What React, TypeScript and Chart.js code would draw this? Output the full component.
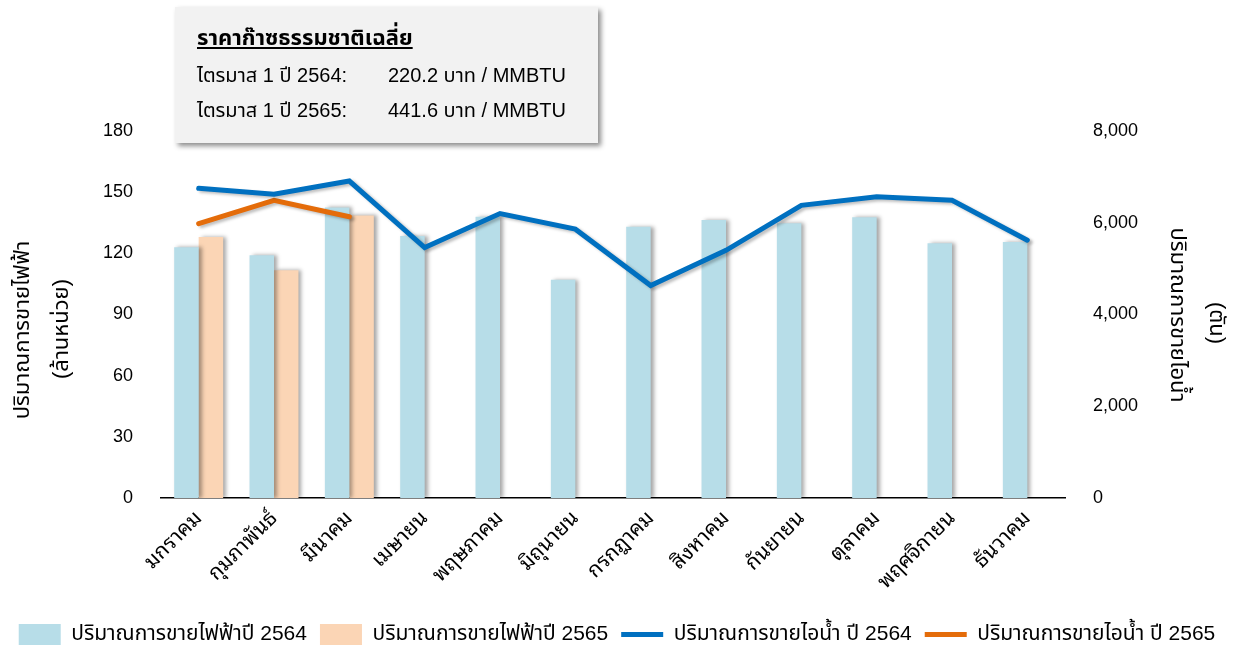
import React, { useEffect, useRef } from 'react';
import { Chart, registerables } from 'chart.js';

Chart.register(...registerables);

// ---------- data ----------
const months = ['มกราคม', 'กุมภาพันธ์', 'มีนาคม', 'เมษายน', 'พฤษภาคม', 'มิถุนายน', 'กรกฎาคม', 'สิงหาคม', 'กันยายน', 'ตุลาคม', 'พฤศจิกายน', 'ธันวาคม'];
const elec2564 = [123, 119, 142.5, 128.5, 138, 107, 133, 136.3, 134.8, 137.7, 125, 125.6];
const elec2565 = [128, 111.7, 138.6, null, null, null, null, null, null, null, null, null];
const steam2564 = [6750, 6620, 6910, 5460, 6200, 5860, 4630, 5400, 6380, 6565, 6490, 5620];
const steam2565 = [5980, 6490, 6130, null, null, null, null, null, null, null, null, null];

const seriesLabels = ['ปริมาณการขายไฟฟ้าปี 2564', 'ปริมาณการขายไฟฟ้าปี 2565', 'ปริมาณการขายไอน้ำ ปี 2564', 'ปริมาณการขายไอน้ำ ปี 2565'];
const leftAxisTitle = ['ปริมาณการขายไฟฟ้า', '(ล้านหน่วย)'];
const rightAxisTitle = ['ปริมาณการขายไอน้ำ', '(ตัน)'];
const leftMax = 180;
const leftStep = 30;
const rightMax = 8000;
const rightStep = 2000;

const gasTitle = 'ราคาก๊าซธรรมชาติเฉลี่ย';
const gasLabels = ['ไตรมาส 1 ปี 2564:', 'ไตรมาส 1 ปี 2565:'];
const gasValues = ['220.2 บาท / MMBTU', '441.6 บาท / MMBTU'];

const FONT = "'Liberation Sans', Arial, Tahoma, 'Noto Sans Thai', 'Leelawadee UI', sans-serif";
const LOOPED = "'Noto Sans Thai Looped', Tahoma, 'Liberation Sans', Arial, 'Noto Sans Thai', sans-serif";

const shadowPlugin = {
  id: 'shadowPlugin',
  beforeDatasetDraw(chart: any, args: any) {
    const ctx = chart.ctx;
    ctx.save();
    const isBar = args.meta.type === 'bar';
    ctx.shadowColor = isBar ? 'rgba(0,0,0,0.35)' : 'rgba(0,0,0,0.25)';
    ctx.shadowBlur = isBar ? 4 : 3;
    ctx.shadowOffsetX = 3;
    ctx.shadowOffsetY = isBar ? 0 : 2;
  },
  afterDatasetDraw(chart: any) {
    chart.ctx.restore();
  },
};

const axisTitlePlugin = {
  id: 'axisTitlePlugin',
  afterDraw(chart: any) {
    const ctx = chart.ctx;
    ctx.save();
    ctx.fillStyle = '#000';
    ctx.font = `22px ${FONT}`;
    ctx.textAlign = 'center';
    ctx.textBaseline = 'middle';
    const drawRot = (text: string, x: number, y: number, rot: number) => {
      ctx.save();
      ctx.translate(x, y);
      ctx.rotate(rot);
      ctx.fillText(text, 0, 0);
      ctx.restore();
    };
    drawRot(leftAxisTitle[0], 23, 330, -Math.PI / 2);
    drawRot(leftAxisTitle[1], 62, 329, -Math.PI / 2);
    drawRot(rightAxisTitle[0], 1177, 315, Math.PI / 2);
    drawRot(rightAxisTitle[1], 1216, 323, Math.PI / 2);
    ctx.restore();
  },
};

export default function App() {
  const canvasRef = useRef<HTMLCanvasElement | null>(null);

  useEffect(() => {
    if (!canvasRef.current) return;
    const chart = new Chart(canvasRef.current, {
      type: 'bar',
      data: {
        labels: months,
        datasets: [
          {
            type: 'bar',
            label: seriesLabels[0],
            data: elec2564,
            backgroundColor: '#B7DDE8',
            borderWidth: 0,
            yAxisID: 'y',
            order: 1,
            categoryPercentage: 0.65,
            barPercentage: 1.0,
            pointStyle: 'rect',
          } as any,
          {
            type: 'bar',
            label: seriesLabels[1],
            data: elec2565,
            backgroundColor: '#FBD5B5',
            borderWidth: 0,
            yAxisID: 'y',
            order: 1,
            categoryPercentage: 0.65,
            barPercentage: 1.0,
            pointStyle: 'rect',
          } as any,
          {
            type: 'line',
            label: seriesLabels[2],
            data: steam2564,
            borderColor: '#0070C0',
            backgroundColor: '#0070C0',
            borderWidth: 5,
            pointRadius: 0,
            borderCapStyle: 'round',
            tension: 0,
            yAxisID: 'y1',
            order: 0,
            pointStyle: 'line',
          } as any,
          {
            type: 'line',
            label: seriesLabels[3],
            data: steam2565,
            borderColor: '#E46C0A',
            backgroundColor: '#E46C0A',
            borderWidth: 5,
            pointRadius: 0,
            borderCapStyle: 'round',
            tension: 0,
            yAxisID: 'y1',
            order: 0,
            spanGaps: false,
            pointStyle: 'line',
          } as any,
        ],
      },
      options: {
        responsive: false,
        animation: false,
        devicePixelRatio: 1,
        layout: { padding: { top: 131, bottom: -6, left: 0, right: 0 } },
        plugins: {
          legend: {
            position: 'bottom',
            labels: {
              usePointStyle: true,
              pointStyleWidth: 42,
              color: '#000',
              font: { family: FONT, size: 21 },
              padding: 13,
              sort: (a: any, b: any) => a.datasetIndex - b.datasetIndex,
            },
          },
          tooltip: { enabled: false },
        },
        scales: {
          x: {
            grid: { display: false, drawTicks: false },
            border: { display: true, color: '#000', width: 1.5 },
            ticks: {
              color: '#000',
              font: { family: LOOPED, size: 21 },
              maxRotation: 45,
              minRotation: 45,
              padding: 8,
              autoSkip: false,
            },
            afterFit: (scale: any) => {
              scale.height = 113;
            },
          },
          y: {
            position: 'left',
            min: 0,
            max: leftMax,
            grid: { display: false, drawTicks: false },
            border: { display: false },
            ticks: {
              stepSize: leftStep,
              color: '#000',
              font: { family: FONT, size: 18 },
              padding: 28,
            },
            afterFit: (scale: any) => {
              scale.width = 161;
            },
          },
          y1: {
            position: 'right',
            min: 0,
            max: rightMax,
            grid: { display: false, drawTicks: false },
            border: { display: false },
            ticks: {
              stepSize: rightStep,
              color: '#000',
              font: { family: FONT, size: 18 },
              padding: 28,
            },
            afterFit: (scale: any) => {
              scale.width = 169;
            },
          },
        },
      },
      plugins: [shadowPlugin, axisTitlePlugin],
    });
    return () => chart.destroy();
  }, []);

  const textStyle: React.CSSProperties = {
    position: 'absolute',
    fontFamily: FONT,
    fontSize: 20,
    lineHeight: '24px',
    color: '#000',
    whiteSpace: 'nowrap',
  };

  return (
    <div style={{ position: 'fixed', left: 0, top: 0, width: 1234, height: 649, background: '#fff' }}>
      <canvas ref={canvasRef} width={1234} height={649} style={{ display: 'block', width: 1234, height: 649 }} />
      <div
        style={{
          position: 'absolute',
          left: 175,
          top: 7,
          width: 423,
          height: 136,
          background: '#F2F2F2',
          boxShadow: '3px 3px 5px rgba(0,0,0,0.45)',
        }}
      >
        <span style={{ ...textStyle, left: 22, top: 19, fontSize: 22, fontWeight: 'bold', textDecoration: 'underline' }}>{gasTitle}</span>
        <span style={{ ...textStyle, left: 22, top: 56 }}>{gasLabels[0]}</span>
        <span style={{ ...textStyle, left: 213, top: 56 }}>{gasValues[0]}</span>
        <span style={{ ...textStyle, left: 22, top: 91 }}>{gasLabels[1]}</span>
        <span style={{ ...textStyle, left: 213, top: 91 }}>{gasValues[1]}</span>
      </div>
    </div>
  );
}
